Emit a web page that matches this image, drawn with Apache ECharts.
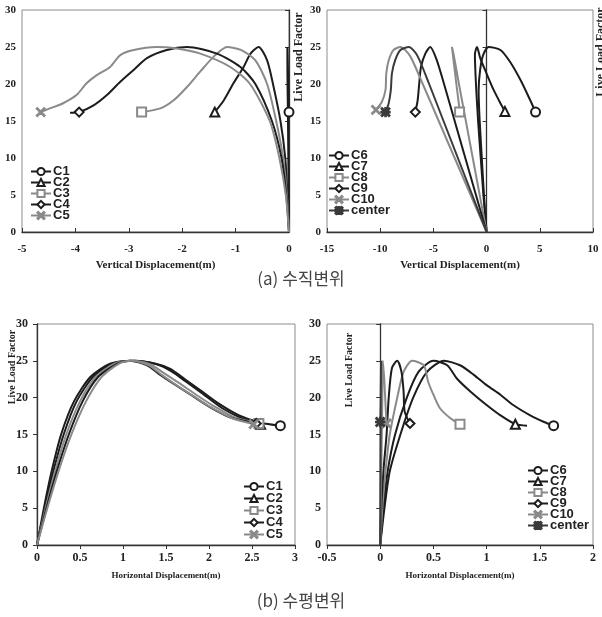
<!DOCTYPE html>
<html><head><meta charset="utf-8">
<script src="https://cdn.jsdelivr.net/npm/echarts@6/dist/echarts.min.js"></script>
<style>html,body{margin:0;padding:0;background:#fff}#c{width:602px;height:617px}</style>
</head><body><div id="c"></div>
<script>
// ---------- data ----------
const vertTicksA = [-5, 0, 1];      // min, max, interval
const vertTicksB = [-15, 10, 5];
const horTicksA = [0, 3, 0.5];
const horTicksB = [-0.5, 2, 0.5];
const llfTicks = [0, 30, 5];

const namesA = ['C1','C2','C3','C4','C5'];
const namesB = ['C6','C7','C8','C9','C10','center'];

// (a) vertical displacement, C1-C5
const c1V = [[0,0],[-0.01,8],[-0.02,16],[-0.03,22],[-0.03,25],[-0.02,22],[-0.01,19],[0,16.2]];
const c2V = [[0,0],[-0.03,5],[-0.07,10],[-0.16,15],[-0.3,20],[-0.41,23.2],[-0.57,25],[-0.72,24.1],[-0.85,22.3],[-1.04,20.1],[-1.22,17.8],[-1.39,16.2]];
const c3V = [[0,0],[-0.04,5],[-0.11,10],[-0.24,15],[-0.41,20],[-0.63,23.2],[-0.9,24.6],[-1.16,25],[-1.41,23.7],[-1.66,21.7],[-1.91,19.6],[-2.16,17.8],[-2.41,16.7],[-2.76,16.2]];
const c4V = [[0,0],[-0.05,5],[-0.14,10],[-0.32,15],[-0.63,20],[-0.91,22.3],[-1.35,24.1],[-1.91,25],[-2.29,24.6],[-2.66,23.5],[-2.91,21.9],[-3.16,20.3],[-3.41,18.5],[-3.66,17.1],[-3.93,16.2],[-4.1,16.1]];
const c5V = [[0,0],[-0.06,5],[-0.18,10],[-0.36,15],[-0.73,20],[-1.1,22.3],[-1.66,24.1],[-2.1,24.8],[-2.48,25],[-2.91,24.6],[-3.16,23.9],[-3.35,22.3],[-3.6,21.2],[-3.79,20.1],[-3.98,18.5],[-4.23,17.4],[-4.48,16.7],[-4.65,16.2]];
// (a) vertical displacement, C6-center
const c6V = [[0,0],[-0.25,5],[-0.45,10],[-0.65,15],[-0.75,19],[-0.6,22],[-0.3,24],[0.2,25],[1.3,24.6],[2.2,23],[3.2,20.5],[4.1,17.8],[4.6,16.2]];
const c7V = [[0,0],[-0.3,5],[-0.55,10],[-0.8,15],[-1.0,20],[-1.1,24],[-0.9,25],[-0.6,23.5],[0,21.4],[0.66,19.2],[1.3,17.4],[1.72,16.3]];
const c8V = [[0,0],[-0.65,5],[-1.3,10],[-1.95,15],[-2.6,20],[-3.1,24],[-3.26,25],[-3.05,22.5],[-2.8,19.5],[-2.6,17.2],[-2.54,16.2]];
const c9V = [[0,0],[-1.0,5],[-2.0,10],[-3.0,15],[-4.0,20],[-4.7,23.3],[-5.3,25],[-5.76,24.1],[-6.17,22.3],[-6.33,20.1],[-6.48,17.8],[-6.7,16.2]];
const c10V = [[0,0],[-1.5,5],[-3.0,10],[-4.5,15],[-6.0,20],[-7.2,23.8],[-8.1,25],[-8.74,24.6],[-9.2,23.2],[-9.43,21.4],[-9.5,19.2],[-9.84,17.6],[-10.4,16.5]];
const centerV = [[0,0],[-1.35,5],[-2.7,10],[-4.05,15],[-5.4,20],[-6.5,23.8],[-7.3,25],[-8.1,24.6],[-8.6,23.2],[-8.9,21.4],[-9.0,19.2],[-9.2,17.4],[-9.5,16.2]];
// (b) horizontal displacement, C1-C5
const c1H = [[0,0],[0.08,5],[0.17,10],[0.28,15],[0.43,19.5],[0.62,22.8],[0.85,24.6],[1.12,25],[1.38,24.6],[1.55,23.9],[1.72,22.5],[1.9,21],[2.1,19.3],[2.35,17.6],[2.6,16.6],[2.83,16.2]];
const c2H = [[0,0],[0.09,5],[0.19,10],[0.31,15],[0.46,19.5],[0.65,22.8],[0.88,24.6],[1.14,25],[1.4,24.5],[1.56,23.6],[1.73,22.2],[1.93,20.5],[2.15,18.6],[2.38,17.2],[2.6,16.4]];
const c3H = [[0,0],[0.1,5],[0.21,10],[0.34,15],[0.5,19.5],[0.68,22.8],[0.9,24.6],[1.1,25],[1.32,24.5],[1.48,23.3],[1.65,22],[1.85,20.4],[2.05,18.9],[2.3,17.3],[2.58,16.5]];
const c4H = [[0,0],[0.11,5],[0.23,10],[0.37,15],[0.53,19.5],[0.71,22.8],[0.93,24.6],[1.08,25],[1.28,24.4],[1.42,23.2],[1.6,21.8],[1.8,20.3],[2.0,18.8],[2.25,17.3],[2.55,16.5]];
const c5H = [[0,0],[0.12,5],[0.25,10],[0.4,15],[0.57,19.5],[0.75,22.8],[0.95,24.6],[1.1,25],[1.3,24.4],[1.45,23.1],[1.62,21.7],[1.82,20.2],[2.02,18.7],[2.27,17.2],[2.52,16.4]];
// (b) horizontal displacement, C6-center
const c6H = [[0,0],[0.04,5],[0.09,10],[0.19,15],[0.31,20],[0.44,23.5],[0.6,25],[0.75,24.4],[0.88,23.1],[1.0,21.7],[1.13,20.4],[1.25,19],[1.41,17.6],[1.54,16.7],[1.63,16.2]];
const c7H = [[0,0],[0.03,5],[0.07,10],[0.14,15],[0.25,20],[0.36,23.5],[0.5,25],[0.63,24.4],[0.72,22.6],[0.85,20.8],[1.0,19],[1.13,17.6],[1.27,16.4],[1.38,16.2]];
const c8H = [[0,0],[0.02,5],[0.05,10],[0.09,15],[0.16,20],[0.22,23.5],[0.3,25],[0.41,24.4],[0.45,22.2],[0.5,20.4],[0.56,18.6],[0.66,17.2],[0.75,16.4]];
const c9H = [[0,0],[0.01,5],[0.03,10],[0.06,15],[0.08,20],[0.11,24],[0.16,25],[0.2,23.5],[0.22,20.8],[0.23,18.1],[0.28,16.5]];
const c10H = [[0,0],[0.005,5],[0.01,10],[0.015,15],[0.02,20],[0.025,25],[0.04,22],[0.05,19],[0.06,16.5]];
const centerH = [[0,0],[0.002,10],[0.005,20],[0.008,25],[0.006,21],[0.003,18],[0,16.7]];

// marker point index (default: last point)
const markerAt = { 'C4V': 14, 'C7H': 12 };

// ---------- styles ----------
const BLACK = '#1c1c1c', GRAY = '#8a8a8a', DARK = '#3a3a3a';
const XSYM = 'path://M0,1.2 L1.2,0 L5,3.8 L8.8,0 L10,1.2 L6.2,5 L10,8.8 L8.8,10 L5,6.2 L1.2,10 L0,8.8 L3.8,5 Z';
const ASYM = 'path://M0,1.2 L1.2,0 L5,3.8 L8.8,0 L10,1.2 L6.2,5 L10,8.8 L8.8,10 L5,6.2 L1.2,10 L0,8.8 L3.8,5 Z M4.3,0 L5.7,0 L5.7,10 L4.3,10 Z M0,4.3 L10,4.3 L10,5.7 L0,5.7 Z';
const sty = {
  C1:{c:BLACK,s:'emptyCircle'}, C2:{c:BLACK,s:'emptyTriangle'}, C3:{c:GRAY,s:'emptyRect'},
  C4:{c:BLACK,s:'emptyDiamond'}, C5:{c:GRAY,s:XSYM},
  C6:{c:BLACK,s:'emptyCircle'}, C7:{c:BLACK,s:'emptyTriangle'}, C8:{c:GRAY,s:'emptyRect'},
  C9:{c:BLACK,s:'emptyDiamond'}, C10:{c:GRAY,s:XSYM}, center:{c:DARK,s:ASYM}
};

function mkSeries(name, arr, gi, key) {
  const mi = markerAt[key] !== undefined ? markerAt[key] : arr.length - 1;
  const st = sty[name];
  return {
    type:'line', name, xAxisIndex:gi, yAxisIndex:gi, smooth:0.25,
    symbol: st.s, symbolSize: 9, showSymbol:true, animation:false,
    lineStyle:{color:st.c, width:2}, itemStyle:{color:st.c, borderColor:st.c, borderWidth:1.3},
    data: arr.map((p,i)=> i===mi ? p : {value:p, symbol:'none'}),
    z: 3
  };
}

const series = [
  mkSeries('C1',c1V,0,'C1V'), mkSeries('C2',c2V,0,'C2V'), mkSeries('C3',c3V,0,'C3V'),
  mkSeries('C4',c4V,0,'C4V'), mkSeries('C5',c5V,0,'C5V'),
  mkSeries('C6',c6V,1,'C6V'), mkSeries('C7',c7V,1,'C7V'), mkSeries('C8',c8V,1,'C8V'),
  mkSeries('C9',c9V,1,'C9V'), mkSeries('C10',c10V,1,'C10V'), mkSeries('center',centerV,1,'centerV'),
  mkSeries('C1',c1H,2,'C1H'), mkSeries('C2',c2H,2,'C2H'), mkSeries('C3',c3H,2,'C3H'),
  mkSeries('C4',c4H,2,'C4H'), mkSeries('C5',c5H,2,'C5H'),
  mkSeries('C6',c6H,3,'C6H'), mkSeries('C7',c7H,3,'C7H'), mkSeries('C8',c8H,3,'C8H'),
  mkSeries('C9',c9H,3,'C9H'), mkSeries('C10',c10H,3,'C10H'), mkSeries('center',centerH,3,'centerH')
];

const SERIF = '"Liberation Serif", "Times New Roman", serif';
const grids = [
  {left:22, top:10, width:267, height:222},
  {left:327, top:10, width:266, height:222},
  {left:37, top:324, width:258, height:221},
  {left:327, top:324, width:266, height:221}
].map(g => Object.assign({show:true, borderColor:'#8c8c8c', borderWidth:1, backgroundColor:'transparent'}, g));

function xAx(gi, t, name, fs, nameFs, lm, ng, tickIn) {
  return {
    type:'value', gridIndex:gi, min:t[0], max:t[1], interval:t[2],
    name, nameLocation:'middle', nameGap:ng,
    nameTextStyle:{fontFamily:SERIF, fontWeight:'bold', fontSize:nameFs, color:'#222'},
    axisLine:{onZero:false, lineStyle:{color:'#333', width:1.3}},
    axisTick:{show:true, inside:tickIn, length:4, lineStyle:{color:'#333'}},
    axisLabel:{fontFamily:SERIF, fontWeight:'bold', fontSize:fs, color:'#222', margin:lm},
    splitLine:{show:false}
  };
}
function yAx(gi, fs, lm) {
  return {
    type:'value', gridIndex:gi, min:llfTicks[0], max:llfTicks[1], interval:llfTicks[2],
    axisLine:{show:true, onZero:true, lineStyle:{color:'#333', width:1.3}},
    axisTick:{show:true, length:4, lineStyle:{color:'#333'}},
    axisLabel:{fontFamily:SERIF, fontWeight:'bold', fontSize:fs, color:'#222', margin:lm},
    splitLine:{show:false}
  };
}

function legend(data, left, top, gap) {
  return {
    data, orient:'vertical', left, top, itemWidth:20, itemHeight:9, itemGap:gap,
    padding:0, selectedMode:false,
    textStyle:{fontFamily:'"Liberation Sans", Arial, sans-serif', fontWeight:'bold', fontSize:13, lineHeight:11, color:'#222', padding:[0,0,0,-3]}
  };
}

function rotText(text, x, y, fs, rot) {
  return {type:'text', x, y, rotation:rot, z:10,
    style:{text, fontFamily:SERIF, fontWeight:'bold', fontSize:fs, fill:'#222', align:'center', verticalAlign:'middle'}};
}

const option = {
  animation:false,
  backgroundColor:'#fff',
  grid: grids,
  xAxis: [
    xAx(0, vertTicksA, 'Vertical Displacement(m)', 11, 11, 12, 28, true),
    xAx(1, vertTicksB, 'Vertical Displacement(m)', 11, 11, 12, 28, true),
    xAx(2, horTicksA, 'Horizontal Displacement(m)', 12, 9, 7, 26, false),
    xAx(3, horTicksB, 'Horizontal Displacement(m)', 12, 9, 7, 26, false)
  ],
  yAxis: [ yAx(0, 11, 6), yAx(1, 11, 6), yAx(2, 12, 9), yAx(3, 12, 6) ],
  legend: [
    legend(namesA, 30, 165, -2),
    legend(namesB, 328, 149, -2),
    legend(namesA, 243, 480, -1),
    legend(namesB, 527, 464, -2)
  ],
  graphic: [
    rotText('Live Load Factor', 299, 57, 12, Math.PI/2),
    rotText('Live Load Factor', 601, 52, 12, Math.PI/2),
    rotText('Live Load Factor', 12, 367, 10, Math.PI/2),
    rotText('Live Load Factor', 349, 370, 10, Math.PI/2),
    {type:'text', x:301, y:279, z:10, style:{text:'(a) 수직변위', fontFamily:'"Noto Sans CJK KR", "Noto Sans", sans-serif', fontSize:17, fill:'#444', align:'center', verticalAlign:'middle'}},
    {type:'text', x:301, y:601, z:10, style:{text:'(b) 수평변위', fontFamily:'"Noto Sans CJK KR", "Noto Sans", sans-serif', fontSize:17, fill:'#444', align:'center', verticalAlign:'middle'}}
  ],
  series
};
const chart = echarts.init(document.getElementById('c'), null, {renderer:'canvas'});
chart.setOption(option);
</script></body></html>
